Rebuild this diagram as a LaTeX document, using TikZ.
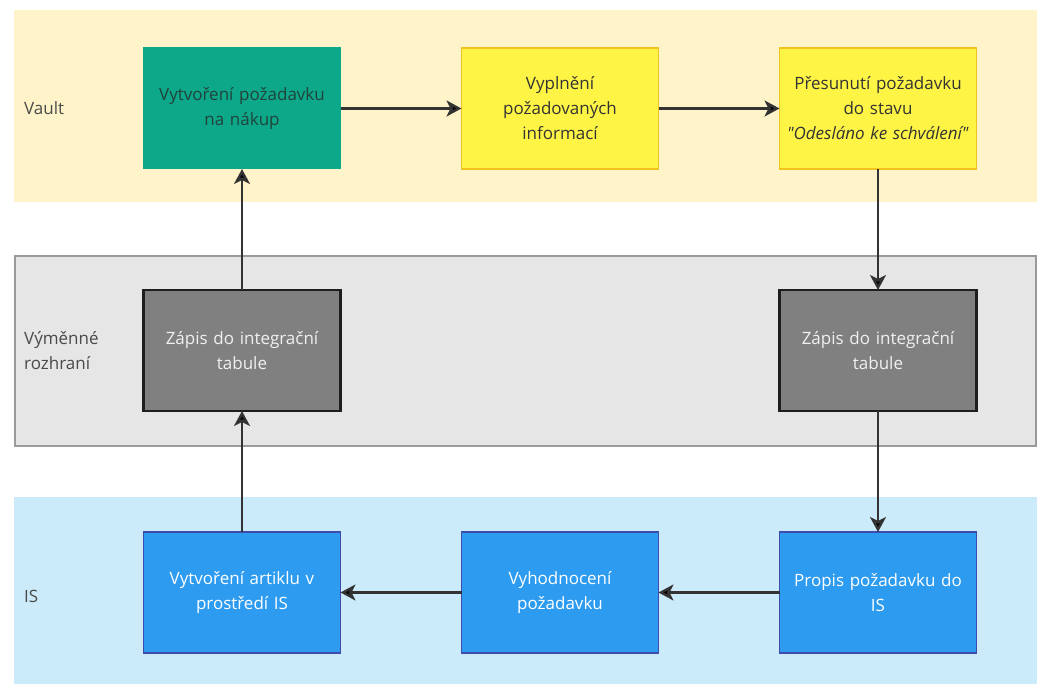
\documentclass[tikz,border=0pt]{standalone}
\usepackage{fontspec}
\setmainfont{Open Sans}[Ligatures=TeXOff]
\usetikzlibrary{arrows.meta,positioning}
\definecolor{vaultbg}{HTML}{FFF4C9}
\definecolor{swapbg}{HTML}{E6E6E6}
\definecolor{swapline}{HTML}{9A9A9A}
\definecolor{isbg}{HTML}{CCEBFA}
\definecolor{greenfill}{HTML}{0DA789}
\definecolor{greentext}{HTML}{21433B}
\definecolor{yellowfill}{HTML}{FEF445}
\definecolor{yellowline}{HTML}{F2C31C}
\definecolor{grayfill}{HTML}{808080}
\definecolor{grayline}{HTML}{1E1E1E}
\definecolor{bluefill}{HTML}{2D9BF0}
\definecolor{blueline}{HTML}{3F4CAE}
\definecolor{arrowc}{HTML}{333333}
\definecolor{lanetext}{HTML}{4A4A4A}
\begin{document}
\begin{tikzpicture}[x=1pt,y=-1pt,>={Stealth[length=15pt,width=16pt,inset=4pt]},
  node distance=121pt,
  box/.style={rectangle,minimum width=197pt,minimum height=121pt,inner sep=0pt,
    outer sep=0pt,text width=190pt,align=center,font=\fontsize{17}{25}\selectfont},
  green node/.style={box,fill=greenfill,draw=greenfill,line width=1pt,text=greentext},
  yellow node/.style={box,fill=yellowfill,draw=yellowline,line width=1.5pt,text=arrowc},
  gray node/.style={box,fill=grayfill,draw=grayline,line width=2.2pt,text=white!94!black},
  blue node/.style={box,fill=bluefill,draw=blueline,line width=1.8pt,text=white},
  lane label/.style={anchor=west,align=left,text=lanetext,inner sep=0pt,
    font=\fontsize{17}{25}\selectfont}]
  \useasboundingbox (0,0) rectangle (1037,684);

  % lanes
  \fill[vaultbg] (14,10) rectangle (1037,202);
  \draw[fill=swapbg,draw=swapline,line width=1.6pt] (15,256) rectangle (1036,446);
  \fill[isbg] (14,497) rectangle (1037,684);

  \node[lane label] (vault) at (24,108) {Vault};
  \node[lane label] (swap) at (24,351) {Výměnné\\rozhraní};
  \node[lane label] (is) at (24,596) {IS};

  % steps
  \node[green node] (vytvoreni) at (242,108.5) {Vytvoření požadavku\\na nákup};
  \node[yellow node] (vyplneni) [right=of vytvoreni] {Vyplnění\\požadovaných\\informací};
  \node[yellow node] (presunuti) [right=of vyplneni]
    {Přesunutí požadavku\\do stavu\\\textit{"Odesláno ke schválení"}};
  \node[gray node] (zapisL) [below=of vytvoreni] {Zápis do integrační\\tabule};
  \node[gray node] (zapisR) [below=of presunuti] {Zápis do integrační\\tabule};
  \node[blue node] (propis) [below=of zapisR] {Propis požadavku do\\IS};
  \node[blue node] (artikl) [below=of zapisL] {Vytvoření artiklu v\\prostředí IS};
  \node[blue node] (vyhodnoceni) [right=of artikl] {Vyhodnocení\\požadavku};

  \path[->,draw=arrowc,line width=2.4pt]
    (vytvoreni) edge (vyplneni)
    (vyplneni) edge (presunuti)
    (presunuti) edge (zapisR)
    (zapisR) edge (propis)
    (propis) edge (vyhodnoceni)
    (vyhodnoceni) edge (artikl)
    (artikl) edge (zapisL)
    (zapisL) edge (vytvoreni);
\end{tikzpicture}
\end{document}
